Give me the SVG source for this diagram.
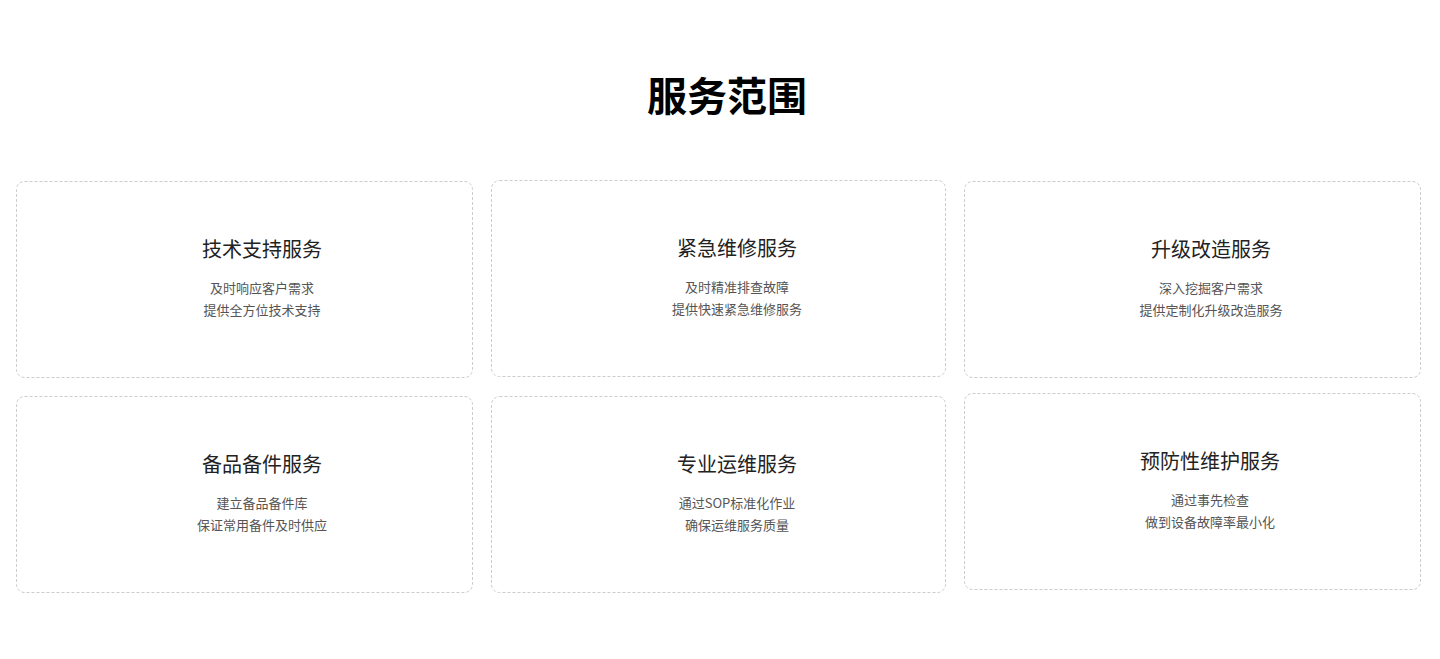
<svg xmlns="http://www.w3.org/2000/svg" width="1440" height="659" viewBox="0 0 1440 659">
<style>
.card{fill:#fff;stroke:#ccc;stroke-width:1;stroke-dasharray:3 2}
text{font-family:"Noto Sans CJK SC","Noto Sans",sans-serif;text-anchor:middle}
.h{font-size:40px;font-weight:bold;fill:#000}
.t{font-size:20px;fill:#222}
.s{font-size:13px;fill:#555}
</style>
<rect width="1440" height="659" fill="#fff"/>
<text class="h" x="727" y="111">服务范围</text>
<g id="n1"><rect class="card" x="16.5" y="181.5" width="456" height="196" rx="8"/><text class="t" x="262" y="257">技术支持服务</text><text class="s" x="262" y="293">及时响应客户需求</text><text class="s" x="262" y="315">提供全方位技术支持</text></g>
<g id="n2"><rect class="card" x="491.5" y="180.5" width="454" height="196" rx="8"/><text class="t" x="737" y="256">紧急维修服务</text><text class="s" x="737" y="292">及时精准排查故障</text><text class="s" x="737" y="314">提供快速紧急维修服务</text></g>
<g id="n3"><rect class="card" x="964.5" y="181.5" width="456" height="196" rx="8"/><text class="t" x="1211" y="257">升级改造服务</text><text class="s" x="1211" y="293">深入挖掘客户需求</text><text class="s" x="1211" y="315">提供定制化升级改造服务</text></g>
<g id="n4"><rect class="card" x="16.5" y="396.5" width="456" height="196" rx="8"/><text class="t" x="262" y="472">备品备件服务</text><text class="s" x="262" y="508">建立备品备件库</text><text class="s" x="262" y="530">保证常用备件及时供应</text></g>
<g id="n5"><rect class="card" x="491.5" y="396.5" width="454" height="196" rx="8"/><text class="t" x="737" y="472">专业运维服务</text><text class="s" x="737" y="508">通过SOP标准化作业</text><text class="s" x="737" y="530">确保运维服务质量</text></g>
<g id="n6"><rect class="card" x="964.5" y="393.5" width="456" height="196" rx="8"/><text class="t" x="1210" y="469">预防性维护服务</text><text class="s" x="1210" y="505">通过事先检查</text><text class="s" x="1210" y="527">做到设备故障率最小化</text></g>
<g id="connectors"/>
</svg>
